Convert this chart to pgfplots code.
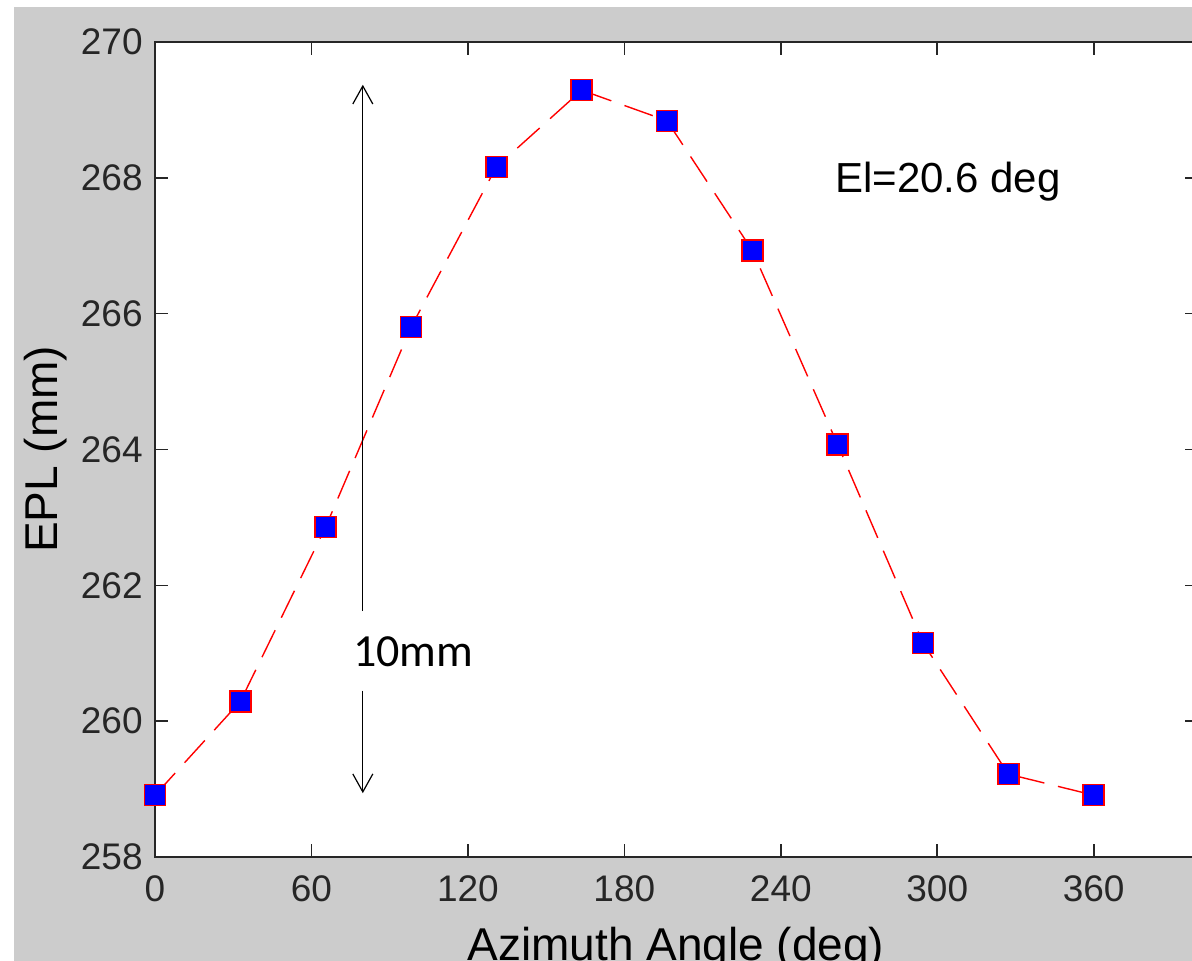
\documentclass[border=0pt]{standalone}
\usepackage{fontspec}
\setmainfont{Liberation Sans}
\newfontfamily\calibri{Carlito}
\usepackage{pgfplots}
\pgfplotsset{compat=1.18}
\usetikzlibrary{arrows.meta}
\definecolor{figgrey}{RGB}{204,204,204}
\begin{document}
\begin{tikzpicture}
\path[use as bounding box] (0,0) rectangle (596pt,480.5pt);
\clip (0,0) rectangle (596pt,480.5pt);
\fill[white] (0,0) rectangle (596pt,480.5pt);
\fill[figgrey] (7pt,0) rectangle (600pt,477pt);
\begin{axis}[
  at={(77.5pt,52pt)}, anchor=south west,
  scale only axis, width=521.5pt, height=407.5pt,
  xmin=0, xmax=400, ymin=258, ymax=270,
  xtick={0,60,...,360}, ytick={258,260,...,270},
  axis background/.style={fill=white},
  axis line style={black!85, line width=0.8pt},
  major tick style={black!85, line width=0.8pt},
  major tick length=6.5pt,
  tick align=inside,
  /pgf/number format/assume math mode=true,
  ticklabel style={font=\fontsize{18.5}{20}\selectfont, text=black!85},
  yticklabel style={inner sep=0pt, anchor=east, xshift=-6pt},
  xticklabel style={inner sep=0pt, anchor=north, yshift=-9pt},
  xlabel={Azimuth Angle (deg)},
  ylabel={EPL (mm)},
  label style={font=\fontsize{23}{26}\selectfont},
  xlabel style={at={(axis description cs:0.4995,-0.1264)}, anchor=base, inner sep=0pt},
  ylabel style={at={(axis description cs:-0.093,0.5)}, anchor=base, rotate=0, inner sep=0pt},
  clip=false,
]
\addplot[red, line width=0.7pt, dash pattern=on 15pt off 7pt,
  mark=square*, mark size=5.25pt,
  mark options={solid, fill=blue, draw=red, line width=0.75pt}]
coordinates {
(0,258.91) (32.727,260.29) (65.455,262.86) (98.182,265.80)
(130.909,268.16) (163.636,269.29) (196.364,268.84) (229.091,266.93)
(261.818,264.07) (294.545,261.15) (327.273,259.22) (360,258.91)
};
\draw[line width=0.6pt, -{Straight Barb[length=9pt,width=10pt]}] (axis cs:79.7,261.62) -- (axis cs:79.7,269.37);
\draw[line width=0.6pt, -{Straight Barb[length=9pt,width=10pt]}] (axis cs:79.7,260.45) -- (axis cs:79.7,258.94);
\node[anchor=base west, inner sep=0pt, font=\calibri\fontsize{23}{26}\selectfont] at (axis cs:75.9,260.80) {10mm};
\node[anchor=base west, inner sep=0pt, font=\fontsize{21}{24}\selectfont] at (axis cs:260.7,267.78) {El=20.6 deg};
\end{axis}
\end{tikzpicture}
\end{document}
